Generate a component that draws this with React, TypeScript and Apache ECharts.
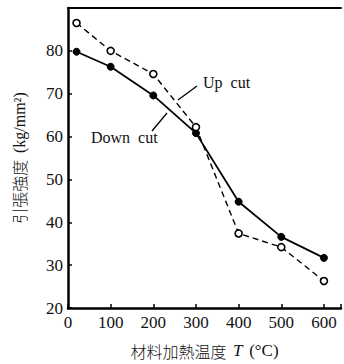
import React, { useEffect, useRef } from "react";
import * as echarts from "echarts";

const temperatures = [20, 100, 200, 300, 400, 500, 600];
const downCut = [79.8, 76.3, 69.6, 60.8, 44.8, 36.6, 31.7];
const upCut = [86.5, 80.0, 74.6, 62.2, 37.4, 34.2, 26.3];
const xTicks = [0, 100, 200, 300, 400, 500, 600];
const yTicks = [20, 30, 40, 50, 60, 70, 80];

const serif = '"Liberation Serif", "DejaVu Serif", serif';
const cjk = '"Noto Sans CJK JP", "Liberation Serif", serif';

export default function App() {
  const ref = useRef<HTMLDivElement>(null);
  useEffect(() => {
    if (!ref.current) return;
    const chart = echarts.init(ref.current, null, { renderer: "svg" });
    chart.setOption({
      animation: false,
      backgroundColor: "#fff",
      grid: { left: 68, right: 2, top: 8, bottom: 54 },
      xAxis: [
        {
          type: "value",
          min: 0,
          max: 640,
          interval: 100,
          name: "{a|材料加熱温度}  {i|T}  {b|(°C)}",
          nameLocation: "middle",
          nameGap: 34,
          nameTextStyle: {
            color: "#111",
            rich: {
              a: { fontFamily: cjk, fontSize: 16, fontWeight: 300, color: "#111" },
              i: { fontFamily: serif, fontSize: 17, fontStyle: "italic", color: "#111" },
              b: { fontFamily: serif, fontSize: 17, color: "#111" },
            },
          },
          axisLine: { show: true, lineStyle: { color: "#000", width: 2.5 } },
          axisTick: { show: true, inside: true, length: 4, lineStyle: { color: "#000", width: 1.5 } },
          axisLabel: {
            fontFamily: serif,
            fontSize: 17,
            color: "#111",
            margin: 6,
            formatter: (v: number) => (xTicks.includes(v) ? String(v) : ""),
          },
          splitLine: { show: false },
        },
        {
          type: "value",
          position: "top",
          min: 0,
          max: 640,
          axisLine: { show: true, lineStyle: { color: "#000", width: 2 } },
          axisTick: { show: false },
          axisLabel: { show: false },
          splitLine: { show: false },
        },
      ],
      yAxis: {
        type: "value",
        min: 20,
        max: 90,
        interval: 10,
        name: "{a|引張強度}  {b|(kg/mm²)}",
        nameLocation: "middle",
        nameRotate: 90,
        nameGap: 41,
        nameTextStyle: {
          color: "#111",
          rich: {
            a: { fontFamily: cjk, fontSize: 16, fontWeight: 300, color: "#111" },
            b: { fontFamily: serif, fontSize: 16, color: "#111" },
          },
        },
        axisLine: { show: true, lineStyle: { color: "#000", width: 2.5 } },
        axisTick: { show: true, inside: true, length: 4, lineStyle: { color: "#000", width: 1.5 } },
        axisLabel: {
          fontFamily: serif,
          fontSize: 17,
          color: "#111",
          margin: 5,
          formatter: (v: number) => (yTicks.includes(v) ? String(v) : ""),
        },
        splitLine: { show: false },
      },
      series: [
        {
          name: "Down cut",
          type: "line",
          data: temperatures.map((t, i) => [t, downCut[i]]),
          symbol: "circle",
          symbolSize: 7,
          lineStyle: { color: "#000", width: 1.8 },
          itemStyle: { color: "#000", borderColor: "#000", borderWidth: 1 },
        },
        {
          name: "Up cut",
          type: "line",
          data: temperatures.map((t, i) => [t, upCut[i]]),
          symbol: "circle",
          symbolSize: 7,
          lineStyle: { color: "#000", width: 1.4, type: [6, 4] },
          itemStyle: { color: "#fff", borderColor: "#000", borderWidth: 1.6 },
          z: 3,
        },
      ],
      graphic: [
        {
          type: "text",
          x: 203,
          y: 82,
          style: { text: "Up  cut", fontFamily: serif, fontSize: 16, fill: "#111", verticalAlign: "middle" },
        },
        {
          type: "line",
          shape: { x1: 197, y1: 86, x2: 178, y2: 100 },
          style: { stroke: "#000", lineWidth: 1.3 },
        },
        {
          type: "text",
          x: 91,
          y: 137,
          style: { text: "Down  cut", fontFamily: serif, fontSize: 16, fill: "#111", verticalAlign: "middle" },
        },
        {
          type: "line",
          shape: { x1: 152, y1: 131, x2: 167, y2: 113 },
          style: { stroke: "#000", lineWidth: 1.3 },
        },
      ],
    });
    return () => chart.dispose();
  }, []);
  return <div ref={ref} style={{ width: 344, height: 364, position: "absolute", left: 0, top: 0 }} />;
}
